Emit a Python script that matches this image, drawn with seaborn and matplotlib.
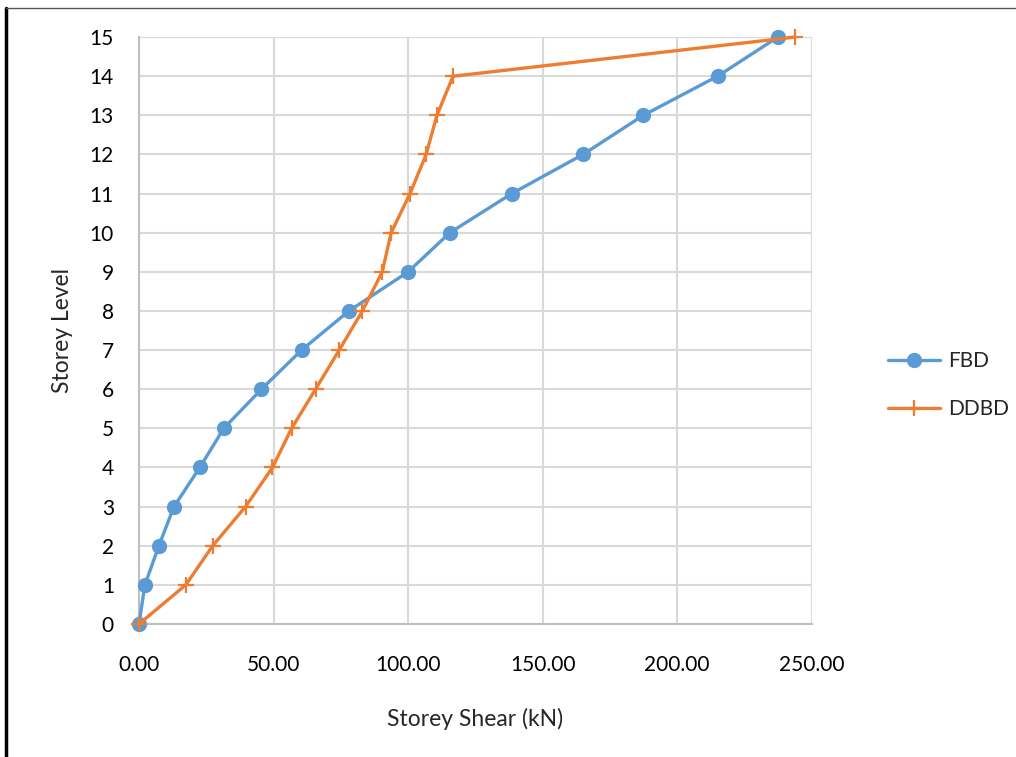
import numpy as np
import pandas as pd
import matplotlib.pyplot as plt
import seaborn as sns
from matplotlib.lines import Line2D

sns.set_style("white")
plt.rcParams['font.family'] = ['Lato', 'DejaVu Sans']

# storey levels and shear values (kN)
levels = list(range(16))
fbd_shear = [0.0, 2.2, 7.4, 13.0, 22.6, 31.5, 45.5, 60.4, 78.0, 100.0,
             115.5, 138.5, 165.0, 187.4, 215.0, 237.4]
ddbd_shear = [0.0, 17.4, 27.4, 39.6, 49.6, 56.7, 65.6, 74.4, 83.0, 90.4,
              93.7, 100.7, 106.7, 110.7, 116.7, 243.7]

x_ticks = [0, 50, 100, 150, 200, 250]
x_ticklabels = ["0.00", "50.00", "100.00", "150.00", "200.00", "250.00"]

df = pd.DataFrame({
    "shear": fbd_shear + ddbd_shear,
    "level": levels + levels,
    "method": ["FBD"] * 16 + ["DDBD"] * 16,
})

blue = "#5B9BD5"
orange = "#ED7D31"

fig = plt.figure(figsize=(10.16, 7.57), dpi=100)
ax = fig.add_axes([0.1368, 0.1757, 0.799 - 0.1368, 0.951 - 0.1757])

sns.lineplot(data=df[df.method == "FBD"], x="shear", y="level", sort=False,
             color=blue, lw=2.4, marker="o", markersize=11, markeredgewidth=0,
             ax=ax, label="FBD", clip_on=False, zorder=3)
sns.lineplot(data=df[df.method == "DDBD"], x="shear", y="level", sort=False,
             color=orange, lw=2.4, marker="+", markersize=11, markeredgewidth=1.6,
             markeredgecolor=orange, ax=ax, label="DDBD", clip_on=False, zorder=4)

ax.set_xlim(0, 250)
ax.set_ylim(0, 15)
ax.set_xticks(x_ticks)
ax.set_xticklabels(x_ticklabels)
ax.set_yticks(levels)
ax.grid(True, color="#D9D9D9", lw=1.5)
ax.set_axisbelow(True)
for side in ["top", "right"]:
    ax.spines[side].set_visible(False)
for side in ["left", "bottom"]:
    ax.spines[side].set_color("#BFBFBF")
    ax.spines[side].set_linewidth(1.5)
ax.tick_params(axis="both", labelsize=15, colors="#000000", length=0)
ax.tick_params(axis="x", pad=22)
ax.tick_params(axis="y", pad=18)

ax.set_xlabel("Storey Shear (kN)", fontsize=16.5, labelpad=24)
ax.set_ylabel("Storey Level", fontsize=16.5, labelpad=12)

ax.legend(loc="center left", bbox_to_anchor=(1.085, 0.407), frameon=False,
          fontsize=15, handlelength=2.5, labelspacing=1.35, handletextpad=0.4)

# outer frame
fig.add_artist(Line2D([0.006, 0.006], [0, 0.99], color="black", lw=2.5,
                      transform=fig.transFigure))
fig.add_artist(Line2D([0.006, 1.0], [0.99, 0.99], color="#555555", lw=1,
                      transform=fig.transFigure))

fig.savefig("out.png", dpi=100)
